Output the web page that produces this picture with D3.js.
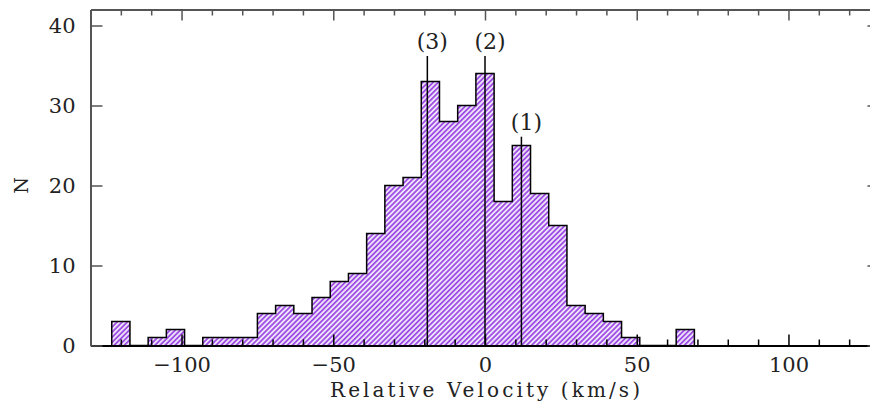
<!DOCTYPE html>
<html>
<head>
<meta charset="utf-8">
<script src="https://cdn.jsdelivr.net/npm/d3@7"></script>
<style>
  body { margin: 0; background: #fff; }
  svg { display: block; }
  .axis text { font-family: "DejaVu Serif", serif; font-size: 21px; fill: #222; }
  .label { font-family: "DejaVu Serif", serif; fill: #222; }
</style>
</head>
<body>
<svg class="hist"></svg>
<script>
const size = {w: 870, h: 409};

// histogram bins (centre of each 6 km/s bin) and counts
const binCenters = [-120, -114, -108, -102, -96, -90, -84, -78, -72, -66, -60, -54,
    -48, -42, -36, -30, -24, -18, -12, -6, 0, 6, 12, 18, 24, 30, 36, 42, 48, 54, 60, 66];
const counts = [3, 0, 1, 2, 0, 1, 1, 1, 4, 5, 4, 6,
    8, 9, 14, 20, 21, 33, 28, 30, 34, 18, 25, 19, 15, 5, 4, 3, 1, 0, 0, 2];
const binWidth = 6;

// marked components
const markerLabels = ['(3)', '(2)', '(1)'];
const markerVel = [-19, 0, 12];
const markerTop = [36.2, 36.2, 26.1];

// axis ticks
const xMajor = [-100, -50, 0, 50, 100];
const xMinor = [-120, -110, -90, -80, -70, -60, -40, -30, -20, -10, 10, 20, 30, 40, 60, 70, 80, 90, 110, 120];
const yMajor = [0, 10, 20, 30, 40];

const svg = d3.select('svg.hist')
    .attr('width', size.w)
    .attr('height', size.h);

const frame = {left: 90.5, right: 879.5, top: 9.5, bottom: 345.5};

let x = d3.scaleLinear().domain([-130, 130]).range([frame.left, frame.right]);
let y = d3.scaleLinear().domain([0, 42]).range([frame.bottom, frame.top]);

// hatch pattern
const defs = svg.append('defs');
const pat = defs.append('pattern')
    .attr('id', 'hatch')
    .attr('patternUnits', 'userSpaceOnUse')
    .attr('width', 3.6)
    .attr('height', 10)
    .attr('patternTransform', 'rotate(45)');
pat.append('rect').attr('width', 3.6).attr('height', 10).attr('fill', '#efe3fb');
pat.append('rect').attr('width', 1.8).attr('height', 10).attr('fill', '#9f4fe4');

// step points: left edge of each bin, then closing edge
let pts = binCenters.map((c, i) => [c - binWidth / 2, counts[i]]);
let lastEdge = binCenters[binCenters.length - 1] + binWidth / 2;
pts = [[binCenters[0] - binWidth / 2, 0]].concat(pts, [[lastEdge, 0]]);

const area = d3.area()
    .curve(d3.curveStepAfter)
    .x(d => x(d[0]))
    .y0(y(0))
    .y1(d => y(d[1]));

const line = d3.line()
    .curve(d3.curveStepAfter)
    .x(d => x(d[0]))
    .y(d => y(d[1]));

svg.append('path')
    .attr('d', area(pts))
    .attr('fill', 'url(#hatch)');

svg.append('path')
    .attr('d', line(pts))
    .attr('fill', 'none')
    .attr('stroke', '#000')
    .attr('stroke-width', 1.5);

// component lines + labels
const mk = svg.append('g').selectAll('g')
    .data(markerVel)
    .join('g');
mk.append('line')
    .attr('x1', d => x(d)).attr('x2', d => x(d))
    .attr('y1', y(0))
    .attr('y2', (d, i) => y(markerTop[i]))
    .attr('stroke', '#000')
    .attr('stroke-width', 1.5);
mk.append('text')
    .attr('class', 'label')
    .attr('x', d => x(d) + 5)
    .attr('y', (d, i) => y(markerTop[i]) - 7)
    .attr('text-anchor', 'middle')
    .style('font-size', '22px')
    .text((d, i) => markerLabels[i]);

// axes
function styleAxis(g, col) {
    g.select('.domain').attr('stroke', col).attr('stroke-width', 2);
    g.selectAll('.tick line').attr('stroke', col).attr('stroke-width', 1.5);
}

svg.append('g').attr('class', 'axis')
    .attr('transform', `translate(0,${frame.bottom})`)
    .call(d3.axisBottom(x).tickValues(xMinor).tickSizeInner(-6).tickSizeOuter(0).tickFormat(''))
    .call(g => styleAxis(g, '#000'));
svg.append('g').attr('class', 'axis')
    .attr('transform', `translate(0,${frame.bottom})`)
    .call(d3.axisBottom(x).tickValues(xMajor).tickSizeInner(-11).tickSizeOuter(0).tickPadding(11)
        .tickFormat(d => d < 0 ? '\u2212' + Math.abs(d) : d))
    .call(g => styleAxis(g, '#000'))
    .call(g => g.selectAll('text').attr('dy', '0.76em'));

svg.append('g').attr('class', 'axis')
    .attr('transform', `translate(0,${frame.top})`)
    .call(d3.axisTop(x).tickValues(xMinor).tickSizeInner(-6).tickSizeOuter(0).tickFormat(''))
    .call(g => styleAxis(g, '#555'));
svg.append('g').attr('class', 'axis')
    .attr('transform', `translate(0,${frame.top})`)
    .call(d3.axisTop(x).tickValues(xMajor).tickSizeInner(-11).tickSizeOuter(0).tickFormat(''))
    .call(g => styleAxis(g, '#555'));

svg.append('g').attr('class', 'axis')
    .attr('transform', `translate(${frame.left},0)`)
    .call(d3.axisLeft(y).tickValues(yMajor).tickSizeInner(-12).tickSizeOuter(0).tickPadding(15))
    .call(g => styleAxis(g, '#555'));
svg.append('g').attr('class', 'axis')
    .attr('transform', `translate(${frame.right},0)`)
    .call(d3.axisRight(y).tickValues(yMajor).tickSizeInner(-12).tickSizeOuter(0).tickFormat(''))
    .call(g => styleAxis(g, '#555'));

// axis titles
svg.append('text')
    .attr('class', 'label')
    .attr('x', x(0))
    .attr('y', 397)
    .attr('text-anchor', 'middle')
    .style('font-size', '20px')
    .attr('textLength', 310)
    .attr('lengthAdjust', 'spacing')
    .text('Relative Velocity (km/s)');

svg.append('text')
    .attr('class', 'label')
    .attr('transform', `translate(28,${y(20)}) rotate(-90)`)
    .attr('text-anchor', 'middle')
    .style('font-size', '19px')
    .text('N');
</script>
</body>
</html>
